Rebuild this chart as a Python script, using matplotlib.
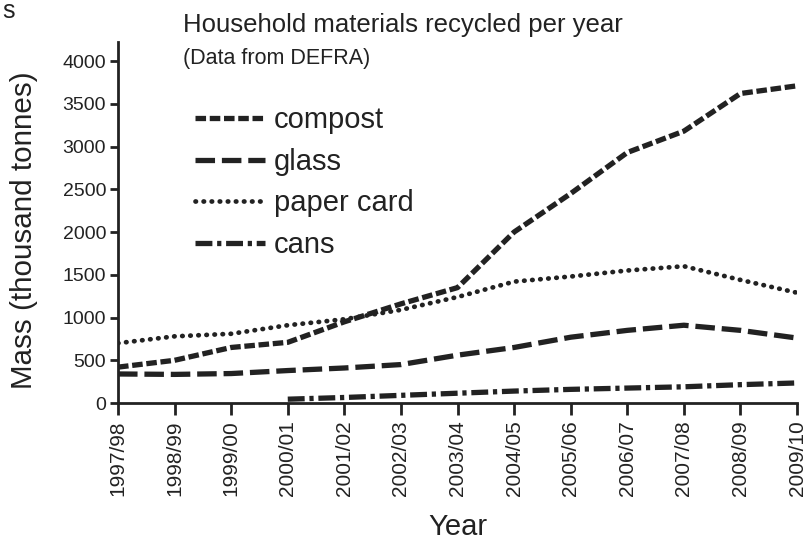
import matplotlib
matplotlib.use('Agg')
import matplotlib.pyplot as plt
import numpy as np

years = ['1997/98', '1998/99', '1999/00', '2000/01', '2001/02', '2002/03', '2003/04',
         '2004/05', '2005/06', '2006/07', '2007/08', '2008/09', '2009/10']
compost = [420, 500, 650, 710, 950, 1160, 1350, 2000, 2450, 2930, 3180, 3620, 3710]
glass = [340, 335, 345, 380, 410, 450, 560, 650, 770, 850, 910, 850, 760]
paper_card = [700, 780, 810, 910, 980, 1090, 1240, 1420, 1480, 1550, 1600, 1440, 1290]
cans = [np.nan, np.nan, np.nan, 45, 65, 90, 115, 140, 160, 175, 190, 215, 235]

plt.rcParams['font.family'] = ['Liberation Sans', 'DejaVu Sans']

fig = plt.figure(figsize=(8.1, 5.41), dpi=100)
ax = fig.add_axes([0.1457, 0.255, 0.8383, 0.667])

x = np.arange(len(years))
c = '#222222'
lw = 3.8
ax.plot(x, compost, color=c, lw=lw, dashes=(2.0, 0.7), label='compost')
ax.plot(x, glass, color=c, lw=lw, dashes=(3.7, 1.3), label='glass')
ax.plot(x, paper_card, color=c, lw=lw * 0.9, dashes=(0.1, 1.6), dash_capstyle='round', label='paper card')
ax.plot(x, cans, color=c, lw=lw, dashes=(3.2, 0.9, 0.8, 0.9), label='cans')

ax.set_xlim(0, 12)
ax.set_ylim(0, 4220)
ax.set_xticks(x)
ax.set_xticklabels(years, rotation=90)
ax.set_yticks(range(0, 4001, 500))
ax.tick_params(axis='both', width=2, color=c, labelcolor=c, pad=3)
ax.tick_params(axis='x', length=8.5, labelsize=15, pad=4)
ax.tick_params(axis='y', length=5.5, labelsize=14)
for side in ['top', 'right']:
    ax.spines[side].set_visible(False)
for side in ['left', 'bottom']:
    ax.spines[side].set_linewidth(2)
    ax.spines[side].set_color(c)

ax.set_xlabel('Year', fontsize=21, color=c, labelpad=12)
ax.set_ylabel('Mass (thousand tonnes)', fontsize=21.3, color=c, labelpad=10)
ax.yaxis.set_label_coords(-0.118, 0.479)

fig.text(183 / 810, 1 - 32 / 541, 'Household materials recycled per year', fontsize=18.5, color=c)
fig.text(183 / 810, 1 - 64 / 541, '(Data from DEFRA)', fontsize=15.5, color=c)
fig.text(2 / 810, 1 - 18 / 541, 's', fontsize=18, color=c)

ax.legend(loc='upper left', bbox_to_anchor=(0.1134, 0.823), frameon=False, fontsize=21,
          borderpad=0, borderaxespad=0, handlelength=2.4, handletextpad=0.3,
          labelspacing=0.47, labelcolor=c)

fig.savefig('out.png', dpi=100)
